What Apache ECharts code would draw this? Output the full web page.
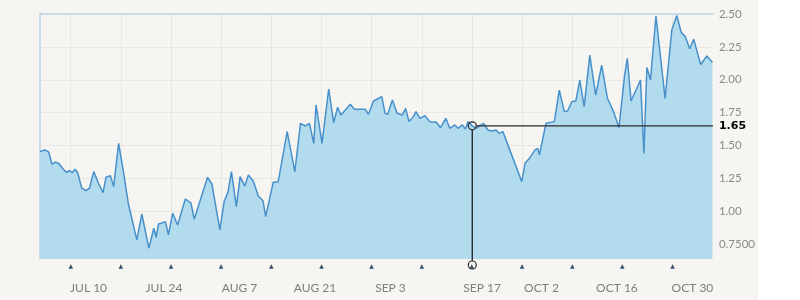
<!DOCTYPE html>
<html>
<head>
<meta charset="utf-8">
<script src="https://cdn.jsdelivr.net/npm/echarts@6.0.0/dist/echarts.min.js"></script>
<style>
  html, body { margin: 0; padding: 0; background: #ffffff; }
  #chart { position: absolute; left: 0; top: 0; width: 758px; height: 300px; background: #f6f5f1; }
</style>
</head>
<body>
<div id="chart"></div>
<script>
// x positions in days since JUL 1
const days = [0, 0.87, 1.61, 2.22, 2.82, 3.45, 4.25, 4.86, 5.48, 5.96,
  6.52, 7.01, 7.75, 8.55, 9.17, 9.97, 10.84, 11.69, 12.24, 13.05,
  13.66, 14.58, 15.51, 16.37, 17.96, 18.89, 20.18, 21.10, 21.54, 21.97,
  22.76, 23.26, 23.81, 24.61, 25.53, 26.95, 28.0, 28.61, 31.07, 31.88,
  33.36, 34.15, 34.89, 35.50, 36.42, 37.11, 37.97, 38.64, 39.56, 40.48,
  41.35, 41.85, 43.25, 44.18, 45.84, 47.26, 48.31, 49.23, 49.97, 50.77,
  51.19, 52.30, 53.54, 54.46, 55.20, 55.81, 57.54, 58.33, 60.31, 60.92,
  61.84, 63.38, 64.0, 64.48, 65.35, 66.22, 67.20, 67.81, 68.43, 69.23,
  69.72, 70.46, 71.39, 72.31, 73.53, 74.27, 75.26, 76.0, 76.92, 77.53,
  78.33, 78.88, 79.38, 80.17, 80.91, 81.54, 82.28, 83.07, 83.87, 84.61,
  85.11, 85.84, 89.35, 89.96, 90.77, 91.80, 92.30, 92.62, 93.84, 95.38,
  96.31, 97.23, 97.84, 98.64, 99.37, 100.11, 100.92, 101.96, 103.06, 104.17,
  105.22, 106.33, 107.38, 108.42, 108.92, 109.62, 110.45, 111.37, 112.0, 112.55,
  113.22, 114.23, 115.93, 117.17, 118.09, 118.92, 119.68, 120.49, 121.23, 122.52,
  123.68, 124.70];

const prices = [1.454, 1.467, 1.451, 1.358, 1.375, 1.365, 1.324, 1.297, 1.309, 1.294,
  1.320, 1.290, 1.176, 1.157, 1.176, 1.302, 1.214, 1.142, 1.259, 1.271,
  1.188, 1.517, 1.290, 1.062, 0.783, 0.980, 0.720, 0.872, 0.803, 0.904,
  0.914, 0.922, 0.821, 0.986, 0.897, 1.094, 1.062, 0.940, 1.259, 1.208,
  0.859, 1.074, 1.150, 1.302, 1.036, 1.264, 1.193, 1.277, 1.231, 1.117,
  1.081, 0.960, 1.221, 1.226, 1.606, 1.302, 1.669, 1.649, 1.669, 1.517,
  1.809, 1.517, 1.930, 1.674, 1.791, 1.733, 1.814, 1.776, 1.776, 1.738,
  1.839, 1.872, 1.745, 1.738, 1.847, 1.745, 1.733, 1.783, 1.682, 1.720,
  1.758, 1.707, 1.727, 1.682, 1.677, 1.636, 1.707, 1.631, 1.657, 1.631,
  1.657, 1.626, 1.682, 1.650, 1.631, 1.651, 1.669, 1.619, 1.611, 1.619,
  1.593, 1.606, 1.226, 1.365, 1.403, 1.467, 1.479, 1.429, 1.669, 1.682,
  1.922, 1.758, 1.763, 1.834, 1.839, 1.998, 1.796, 2.188, 1.884, 2.112,
  1.862, 1.763, 1.636, 2.036, 2.163, 1.839, 1.915, 1.998, 1.441, 2.093,
  1.998, 2.485, 1.859, 2.378, 2.489, 2.359, 2.328, 2.236, 2.308, 2.116,
  2.181, 2.131];

const xLabelDays = [9, 23, 37, 51, 65, 82, 93, 107, 121];
const xLabelTexts = ['JUL 10', 'JUL 24', 'AUG 7', 'AUG 21', 'SEP 3', 'SEP 17', 'OCT 2', 'OCT 16', 'OCT 30'];
const markerDays = [5.7, 15.0, 24.3, 33.6, 42.9, 52.2, 61.5, 70.8, 80.1, 89.4, 98.7, 108.0, 117.3];
const yTickValues = [0.75, 1.0, 1.25, 1.5, 1.75, 2.0, 2.25, 2.5];
const yTickTexts = ['0.7500', '1.00', '1.25', '1.50', '1.75', '2.00', '2.25', '2.50'];
const crossDay = 80.17;
const crossValue = 1.65;
const crossText = '1.65';

const xMin = 0, xMax = 124.8, yMin = 0.638, yMax = 2.5;

const seriesData = days.map((d, i) => [d, prices[i]]);
const yLabelValues = yTickValues.concat([crossValue]);

const chart = echarts.init(document.getElementById('chart'), null, { renderer: 'canvas' });
const FONT = 'Lato, "Open Sans", sans-serif';

chart.setOption({
  animation: false,
  backgroundColor: '#f6f5f1',
  grid: { left: 40, right: 42, top: 14, bottom: 41, containLabel: false },
  xAxis: [
    {
      type: 'value', min: xMin, max: xMax, position: 'bottom',
      axisLine: { show: false }, splitLine: { show: false },
      axisTick: { show: false, customValues: xLabelDays },
      axisLabel: {
        customValues: xLabelDays, margin: 23, color: '#7e7e7e', fontSize: 12, fontFamily: FONT,
        formatter: v => xLabelTexts[xLabelDays.indexOf(v)]
      }
    },
    {
      type: 'value', min: xMin, max: xMax, position: 'bottom',
      axisLine: { show: false },
      axisTick: { show: false, customValues: markerDays },
      splitLine: { show: true, lineStyle: { color: '#e7e6e2', width: 1 } },
      axisLabel: {
        customValues: markerDays, margin: 4, color: '#34506c', fontSize: 6,
        fontFamily: 'DejaVu Sans', formatter: () => '▲'
      }
    },
    {
      type: 'value', min: xMin, max: xMax, position: 'top',
      axisLine: { show: true, lineStyle: { color: '#b9d3e6', width: 1.5 } },
      axisTick: { show: false }, axisLabel: { show: false }, splitLine: { show: false }
    }
  ],
  yAxis: {
    type: 'value', min: yMin, max: yMax, position: 'right',
    axisLine: { show: true, lineStyle: { color: '#b9d3e6', width: 1.5 } },
    axisTick: { show: false, customValues: yTickValues },
    splitLine: { show: true, lineStyle: { color: '#e7e6e2', width: 1 } },
    axisLabel: {
      customValues: yLabelValues, margin: 6, fontSize: 11.5, color: '#8a8a8a', fontFamily: FONT,
      formatter: v => {
        if (Math.abs(v - crossValue) < 1e-9) return '{b|' + crossText + '}';
        return yTickTexts[yTickValues.indexOf(v)];
      },
      rich: { b: { fontWeight: 'bold', color: '#000000', fontSize: 11, fontFamily: 'DejaVu Sans' } }
    }
  },
  series: [
    {
      type: 'line', xAxisIndex: 0, data: seriesData, showSymbol: false, smooth: false,
      lineStyle: { color: '#4890cb', width: 1.5 },
      areaStyle: { color: '#b2dbee', opacity: 1, origin: 'start' },
      silent: true
    },
    {
      type: 'custom', xAxisIndex: 0, data: [[crossDay, crossValue]], silent: true, clip: false, z: 5,
      renderItem: (params, api) => {
        const p = api.coord([api.value(0), api.value(1)]);
        const r = api.coord([xMax, api.value(1)]);
        const b = api.coord([api.value(0), yMin]);
        const by = b[1] + 6;
        const st = { stroke: '#2b2b2b', lineWidth: 1.4, fill: null };
        return {
          type: 'group',
          children: [
            { type: 'line', shape: { x1: p[0] + 4, y1: p[1], x2: r[0], y2: r[1] }, style: st },
            { type: 'line', shape: { x1: p[0], y1: p[1] + 4, x2: p[0], y2: by - 4 }, style: st },
            { type: 'circle', shape: { cx: p[0], cy: p[1], r: 4 }, style: { stroke: '#2b2b2b', lineWidth: 1.2, fill: 'rgba(0,0,0,0)' } },
            { type: 'circle', shape: { cx: p[0], cy: by, r: 4 }, style: { stroke: '#2b2b2b', lineWidth: 1.2, fill: 'rgba(0,0,0,0)' } }
          ]
        };
      }
    }
  ]
});
</script>
</body>
</html>
